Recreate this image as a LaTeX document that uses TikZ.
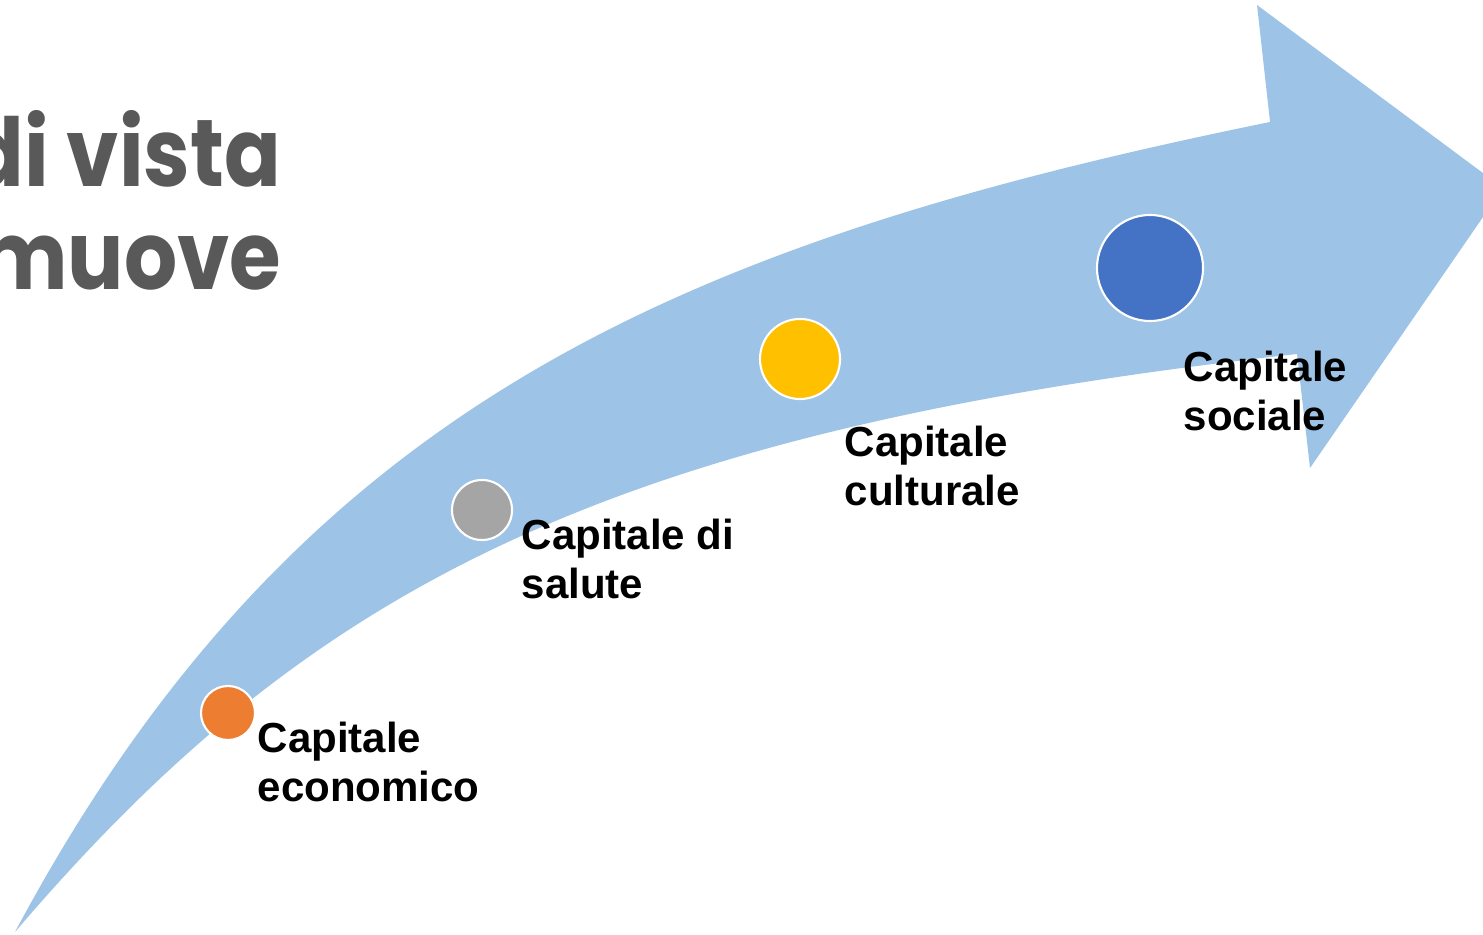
\documentclass[tikz,border=0pt]{standalone}
\usepackage{fontspec}
\setmainfont{Liberation Sans}
\newfontfamily\titlefont{Poppins}[FakeStretch=0.88]
\definecolor{arrowblue}{HTML}{9DC3E6}
\definecolor{titlegray}{HTML}{595959}
\definecolor{dotorange}{HTML}{ED7D31}
\definecolor{dotgray}{HTML}{A5A5A5}
\definecolor{dotyellow}{HTML}{FFC000}
\definecolor{dotblue}{HTML}{4472C4}
\begin{document}
\begin{tikzpicture}[x=0.01cm,y=-0.01cm,
        dot/.style={circle,draw=white,line width=0.6pt,inner sep=0pt},
        lbl/.style={anchor=base west,align=left,inner sep=0pt,
            font=\fontsize{11.95}{13.66}\selectfont\bfseries},
        heading/.style={anchor=base east,align=right,inner sep=0pt,text=titlegray,
            font=\fontsize{27}{29.3}\selectfont\titlefont\bfseries}]
            \useasboundingbox (0,0) rectangle (1483,934);
            \clip (0,0) rectangle (1483,934);
            \fill[arrowblue] (15,932) .. controls (297,404) and (682,242) .. (1270,122)
                -- (1257,5) -- (1503,188) -- (1310,468) -- (1297,354)
                .. controls (601,431) and (307,590) .. (15,932) -- cycle;
            \node[heading] (title) at (282,290) {di vista\\muove};
            \node[dot,fill=dotorange,minimum size=0.54cm] (eco) at (228,713) {};
            \node[dot,fill=dotgray,minimum size=0.6cm] (sal) at (482,510) {};
            \node[dot,fill=dotyellow,minimum size=0.8cm] (cul) at (800,359) {};
            \node[dot,fill=dotblue,minimum size=1.06cm] (soc) at (1150,268) {};
            \node[lbl] (ecolbl) at (257,801) {Capitale\\economico};
            \node[lbl] (sallbl) at (521,598) {Capitale di\\salute};
            \node[lbl] (cullbl) at (844,505) {Capitale\\culturale};
            \node[lbl] (soclbl) at (1183,430) {Capitale\\sociale};
        \end{tikzpicture}
\end{document}
